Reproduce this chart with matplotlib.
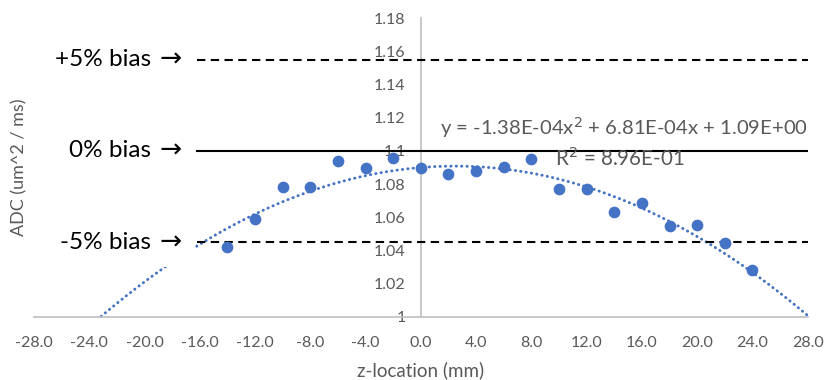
import numpy as np
import matplotlib
matplotlib.use('Agg')
import matplotlib.pyplot as plt
from matplotlib.ticker import FormatStrFormatter

plt.rcParams['font.family'] = ['Lato', 'DejaVu Sans']

# 数据
z = [-14, -12, -10, -8, -6, -4, -2, 0, 2, 4, 6, 8, 10, 12, 14, 16, 18, 20, 22, 24]
adc = [1.0424, 1.059, 1.0785, 1.0785, 1.0942, 1.090, 1.0956, 1.0896, 1.0861, 1.0881,
       1.0905, 1.095, 1.0773, 1.0773, 1.063, 1.0687, 1.0546, 1.0556, 1.0444, 1.0283]
coef = [-1.38e-4, 6.81e-4, 1.09]   # 趋势线系数
bias_levels = [1.155, 1.1, 1.045]
bias_labels = ['+5% bias', '0% bias', '-5% bias']
bias_styles = ['--', '-', '--']
line_start = -16.2

grey = '#595959'
blue = '#4472C4'

fig = plt.figure(figsize=(8.25, 3.8), dpi=100)
ax = fig.add_axes([0.0412, 0.1658, 0.9378, 0.7868])

xx = np.linspace(-28, 28, 400)
ax.plot(xx, np.polyval(coef, xx), linestyle=(0, (0.1, 1.75)), color=blue, lw=2.1,
        dash_capstyle='round', zorder=2)
ax.scatter(z, adc, s=55, color=blue, zorder=4)

for lvl, ls in zip(bias_levels, bias_styles):
    if ls == '--':
        ax.plot([line_start, 28], [lvl, lvl], color='black', lw=1.5,
                linestyle=(0, (4, 2.6)), zorder=3)
    else:
        ax.plot([line_start, 28], [lvl, lvl], color='black', lw=1.5, zorder=3)

# 左侧标注: 文字 + 箭头 (箭头用白底盖住趋势线)
for lvl, lab in zip(bias_levels, bias_labels):
    ax.text(-19.5, lvl, lab, ha='right', va='center', fontsize=17.5, color='black', zorder=6)
    ax.text(-17.3, lvl, '\u2192', ha='right', va='center', fontsize=19, color='black',
            family='DejaVu Sans',
            bbox=dict(boxstyle='square,pad=0.45', fc='white', ec='none'), zorder=5)

ax.set_xlim(-28, 28)
ax.set_ylim(1, 1.18)
ax.set_xticks(np.arange(-28, 29, 4))
ax.set_yticks(np.arange(1, 1.181, 0.02))
ax.xaxis.set_major_formatter(FormatStrFormatter('%.1f'))
ax.set_yticklabels(['%g' % round(v, 2) for v in np.arange(1, 1.181, 0.02)])

ax.spines['left'].set_position(('data', 0))
ax.spines['right'].set_visible(False)
ax.spines['top'].set_visible(False)
ax.spines['left'].set_color('#BFBFBF')
ax.spines['bottom'].set_color('#BFBFBF')
ax.spines['left'].set_linewidth(1.2)
ax.spines['bottom'].set_linewidth(1.2)
ax.tick_params(length=0, labelsize=11.5, labelcolor=grey)
ax.tick_params(axis='y', pad=11)
ax.tick_params(axis='x', pad=14)

ax.text(1.4, 1.1138, 'y = -1.38E-04x$^{2}$ + 6.81E-04x + 1.09E+00', fontsize=14.6,
        color=grey, va='center', zorder=6)
ax.text(14.4, 1.0958, 'R$^{2}$ = 8.96E-01', fontsize=14.8, color=grey, va='center',
        ha='center', zorder=6)

fig.text(0.51, 0.027, 'z-location (mm)', ha='center', va='center', fontsize=13.5, color=grey)
fig.text(0.024, 0.56, 'ADC (um^2 / ms)', ha='center', va='center', rotation=90,
         fontsize=13, color=grey)

fig.savefig('out.png', dpi=100)
